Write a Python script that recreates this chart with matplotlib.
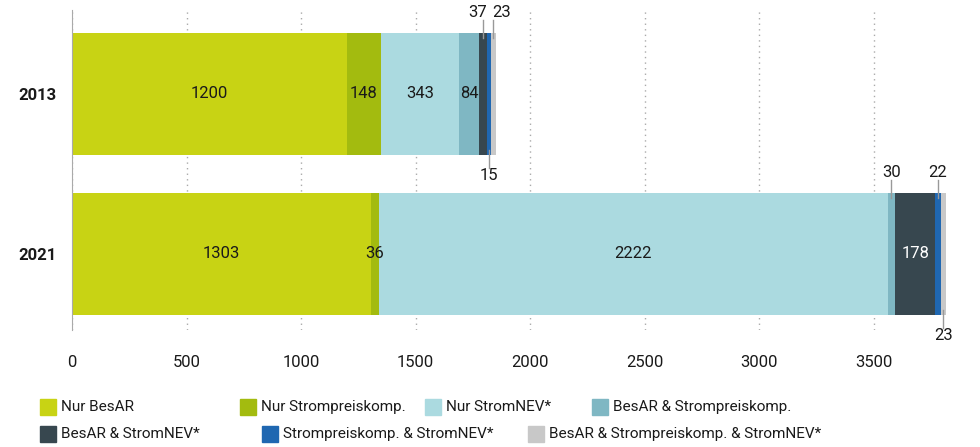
import numpy as np
import matplotlib.pyplot as plt
from matplotlib.patches import Rectangle

plt.rcParams['font.family'] = ['Roboto', 'DejaVu Sans']

# data
years = ['2013', '2021']
series = ['Nur BesAR', 'Nur Strompreiskomp.', 'Nur StromNEV*', 'BesAR & Strompreiskomp.',
          'BesAR & StromNEV*', 'Strompreiskomp. & StromNEV*', 'BesAR & Strompreiskomp. & StromNEV*']
values = {
    '2013': [1200, 148, 343, 84, 37, 15, 23],
    '2021': [1303, 36, 2222, 30, 178, 22, 23],
}
colors = ['#c8d314', '#a3bb0f', '#abdae0', '#7fb7c3', '#37474f', '#1f67b1', '#c8c8c8']
# where each value label goes: 'in' inside bar, 'up' above, 'down' below
label_pos = {
    '2013': ['in', 'in', 'in', 'in', 'up', 'down', 'up'],
    '2021': ['in', 'in', 'in', 'up', 'in', 'up', 'down'],
}
# small sideways nudges (data units) so the outside labels don't collide
label_dx = {
    '2013': [0, 0, 0, 0, -22, 0, 38],
    '2021': [0, 0, 0, 0, 0, 0, 0],
}
xticks = [0, 500, 1000, 1500, 2000, 2500, 3000, 3500]

fig = plt.figure(figsize=(9.8, 4.47), dpi=100)
ax = fig.add_axes([72/980, 1 - 330/447, 888/980, 320/447])

bar_h = 0.7625
for i, yr in enumerate(years):
    left = 0
    for j, v in enumerate(values[yr]):
        ax.barh(i, v, left=left, height=bar_h, color=colors[j], zorder=2)
        cx = left + v / 2
        tx = cx + label_dx[yr][j]
        pos = label_pos[yr][j]
        if pos == 'in':
            tc = 'white' if j == 4 else '#1a1a1a'
            ax.text(cx, i, str(v), ha='center', va='center', fontsize=12, color=tc, zorder=3)
        elif pos == 'up':
            y0 = i - bar_h / 2
            ax.plot([cx, cx], [y0 + 0.03, y0 - 0.08], color='#999999', lw=1, zorder=3,
                    clip_on=False)
            ax.text(tx, y0 - 0.08, str(v), ha='center', va='bottom', fontsize=12,
                    color='#1a1a1a', clip_on=False)
        else:
            y0 = i + bar_h / 2
            ax.plot([cx, cx], [y0 - 0.03, y0 + 0.08], color='#999999', lw=1, zorder=3,
                    clip_on=False)
            ax.text(tx, y0 + 0.08, str(v), ha='center', va='top', fontsize=12,
                    color='#1a1a1a', clip_on=False)
        left += v

ax.set_xlim(0, 3876)
ax.set_ylim(1.475, -0.525)
ax.set_xticks(xticks)
ax.set_xticklabels([str(t) for t in xticks], fontsize=12, color='#1a1a1a')
ax.set_yticks(range(len(years)))
ax.set_yticklabels(years, fontsize=12, fontweight='bold', color='#1a1a1a')
ax.tick_params(axis='x', length=0, pad=18)
ax.tick_params(axis='y', length=0, pad=11)
ax.xaxis.grid(True, linestyle=(0, (1, 3)), color='#aaaaaa', lw=1, zorder=0)
for s in ['top', 'right', 'bottom']:
    ax.spines[s].set_visible(False)
ax.spines['left'].set_color('#aaaaaa')
ax.spines['left'].set_zorder(4)

# legend drawn by hand (items are not on a grid)
leg_x = [40, 240, 425, 592, 40, 262, 528]
leg_y = [407, 407, 407, 407, 434, 434, 434]
for j, name in enumerate(series):
    x0 = leg_x[j] / 980
    y0 = 1 - leg_y[j] / 447
    fig.patches.append(Rectangle((x0, y0 - 8/447), 16/980, 16/447, transform=fig.transFigure,
                                 color=colors[j], figure=fig))
    fig.text(x0 + 21/980, y0, name, fontsize=11, va='center', ha='left', color='#1a1a1a')

fig.savefig('out.png', dpi=100)
